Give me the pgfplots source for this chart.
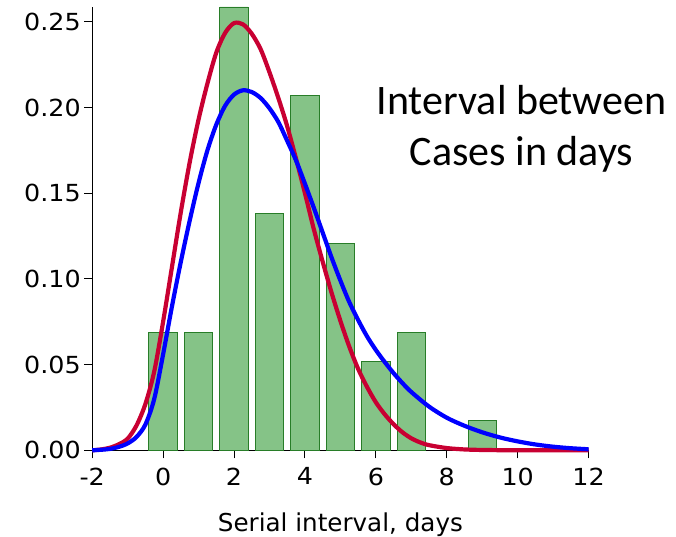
\documentclass[border=0pt]{standalone}
\usepackage{pgfplots}
\pgfplotsset{compat=1.18}
\usepackage{fontspec}
\setmainfont{DejaVu Sans}
\newfontfamily\tickfont{DejaVu Sans}[FakeStretch=1.08]
\newfontfamily\notefont{Carlito}

\definecolor{barfill}{RGB}{133,195,135}
\definecolor{baredge}{RGB}{40,125,40}
\definecolor{fitred}{RGB}{200,0,50}
\definecolor{fitblue}{RGB}{0,0,255}

\begin{document}
\begin{tikzpicture}
\begin{axis}[
  scale only axis,
  width=496.4pt, height=443.3pt,
  xmin=-2, xmax=12, ymin=0, ymax=0.2586,
  axis lines=left,
  axis line style={-, line width=1.3pt, black},
  clip=false,
  tick align=outside,
  major tick length=8pt,
  tick style={black, line width=0.9pt},
  xtick={-2,0,2,4,6,8,10,12},
  xticklabels={-2,0,2,4,6,8,10,12},
  ytick={0,0.05,0.10,0.15,0.20,0.25},
  yticklabels={0.00,0.05,0.10,0.15,0.20,0.25},
  ticklabel style={font=\tickfont\fontsize{23.5}{28}\selectfont},
  xticklabel style={yshift=-6pt},
  xlabel={Serial interval, days},
  xlabel style={at={(axis description cs:0.5,0)}, anchor=base,
                yshift=-81.5pt, font=\fontsize{24.6}{29}\selectfont},
]
  \coordinate (bl) at (rel axis cs:0,0);
  \coordinate (tr) at (rel axis cs:1,1);

  % observed serial intervals (share of 58 pairs)
  \addplot[ybar, bar width=0.8, fill=barfill, draw=baredge, line width=0.9pt]
    coordinates {(0,0.0690) (1,0.0690) (2,0.2586) (3,0.1379) (4,0.2069)
                 (5,0.1207) (6,0.0517) (7,0.0690) (9,0.0172)};

  % fitted density, red
  \addplot[smooth, tension=0.5, color=fitred, line width=4.2pt, line join=round]
    coordinates {(-2.00,0.0000) (-1.75,0.0005) (-1.50,0.0015) (-1.25,0.0035)
      (-1.00,0.0068) (-0.75,0.0145) (-0.50,0.0270) (-0.25,0.0460)
      (0.00,0.0750) (0.25,0.1070) (0.50,0.1390) (0.75,0.1680)
      (1.00,0.1930) (1.25,0.2140) (1.50,0.2320) (1.75,0.2435)
      (2.00,0.2492) (2.25,0.2485) (2.50,0.2430) (2.75,0.2340)
      (3.00,0.2205) (3.25,0.2055) (3.50,0.1890) (3.75,0.1700)
      (4.00,0.1500) (4.25,0.1290) (4.50,0.1100) (4.75,0.0920)
      (5.00,0.0755) (5.25,0.0605) (5.50,0.0475) (5.75,0.0370)
      (6.00,0.0280) (6.25,0.0210) (6.50,0.0152) (6.75,0.0105)
      (7.00,0.0070) (7.25,0.0046) (7.50,0.0030) (8.00,0.0013)
      (8.50,0.0005) (9.00,0.0002) (10.00,0.0000) (12.00,0.0000)};

  % fitted density, blue
  \addplot[smooth, tension=0.5, color=fitblue, line width=4.2pt, line join=round]
    coordinates {(-2.00,0.0000) (-1.75,0.0003) (-1.50,0.0008) (-1.25,0.0020)
      (-1.00,0.0040) (-0.75,0.0078) (-0.50,0.0150) (-0.25,0.0300)
      (0.00,0.0560) (0.25,0.0840) (0.50,0.1100) (0.75,0.1340)
      (1.00,0.1560) (1.25,0.1750) (1.50,0.1900) (1.75,0.2010)
      (2.00,0.2075) (2.25,0.2100) (2.50,0.2090) (2.75,0.2055)
      (3.00,0.1995) (3.25,0.1915) (3.50,0.1805) (3.75,0.1690)
      (4.00,0.1555) (4.25,0.1415) (4.50,0.1270) (4.75,0.1125)
      (5.00,0.0990) (5.25,0.0865) (5.50,0.0760) (5.75,0.0665)
      (6.00,0.0585) (6.25,0.0515) (6.50,0.0450) (6.75,0.0392)
      (7.00,0.0340) (7.50,0.0255) (8.00,0.0190) (8.50,0.0143)
      (9.00,0.0105) (9.50,0.0075) (10.00,0.0052) (10.50,0.0034)
      (11.00,0.0021) (11.50,0.0012) (12.00,0.0006)};

  \node[anchor=base, font=\notefont\fontsize{42}{50}\selectfont]
    at (axis cs:10.11,0.1961) {Interval between};
  \node[anchor=base, font=\notefont\fontsize{42}{50}\selectfont]
    at (axis cs:10.11,0.1660) {Cases in days};
\end{axis}
\pgfresetboundingbox
\path[use as bounding box] ([shift={(-92.2pt,-86.7pt)}]bl) rectangle ([shift={(87.4pt,7pt)}]tr);
\end{tikzpicture}
\end{document}
